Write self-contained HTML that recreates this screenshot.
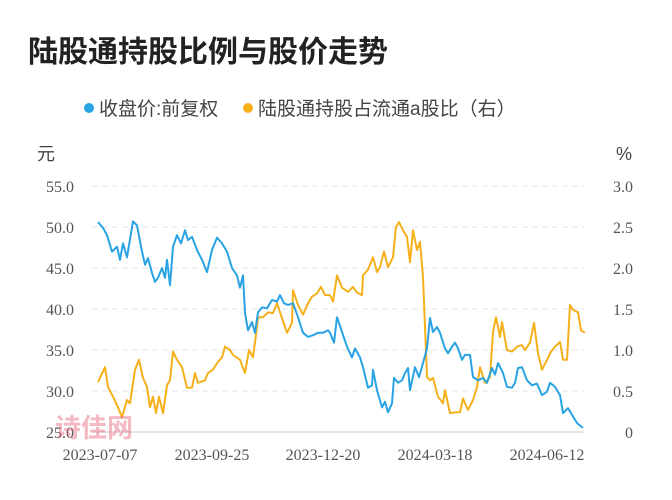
<!DOCTYPE html>
<html><head><meta charset="utf-8"><style>
body{margin:0;background:#fff;}
svg{display:block;}
</style></head><body>
<svg id="c" width="672" height="500" xmlns="http://www.w3.org/2000/svg">
<text x="28" y="62" font-family="'Liberation Sans','Noto Sans CJK SC',sans-serif" font-size="30" font-weight="bold" fill="#222">陆股通持股比例与股价走势</text>
<g font-family="'Liberation Sans','Noto Sans CJK SC',sans-serif" font-size="19" fill="#444">
<g><circle cx="89" cy="108" r="5" fill="#29a3e4"/><text x="99" y="115">收盘价:前复权</text></g>
<g><circle cx="248" cy="108" r="5" fill="#f5b01b"/><text x="258" y="115">陆股通持股占流通a股比（右）</text></g>
</g>
<text x="37" y="160" font-family="'Liberation Sans','Noto Sans CJK SC',sans-serif" font-size="18" fill="#444">元</text>
<text x="616" y="160" font-family="'Liberation Sans',sans-serif" font-size="18" fill="#444">%</text>
<g id="grid"></g><g id="axes"></g><g id="series"></g>
<text x="55" y="437" font-family="'Liberation Sans','Noto Sans CJK SC',sans-serif" font-size="26" font-weight="bold" fill="#e8667a" opacity="0.45">诗佳网</text>
</svg>
<script>
const leftTicks=[25,30,35,40,45,50,55];
const rightTicks=[0,0.5,1,1.5,2,2.5,3];
const xTickLabels=['2023-07-07','2023-09-25','2023-12-20','2024-03-18','2024-06-12'];
const xTickDays=[2,114,225,337,449];
const priceDays=[0,5,9,14,19,22,25,29,35,39,44,47,50,54,57,60,64,67,69,72,75,79,83,87,90,94,99,104,109,114,119,124,129,134,139,142,145,147,150,154,157,160,164,169,174,179,182,186,190,195,200,205,210,215,220,225,230,232,236,239,244,249,254,257,262,265,270,274,275,279,284,287,290,294,296,300,304,307,310,312,317,321,325,329,332,335,339,342,347,350,354,357,360,364,367,372,375,380,385,389,394,397,400,405,409,414,417,420,424,429,434,439,444,449,452,457,462,465,470,474,479,484,485];
const priceVals=[50.6,49.9,49.0,47.0,47.6,46.0,48.0,46.3,50.7,50.2,47.0,45.4,46.2,44.4,43.3,43.8,45.0,43.8,46.0,42.9,47.6,49.0,48.0,49.6,48.4,48.8,47.2,46.0,44.5,47.2,48.7,48.0,47.0,45.0,44.1,42.6,44.1,39.5,37.4,38.4,37.1,39.6,40.2,40.1,41.1,40.9,41.7,40.7,40.5,40.7,39.0,37.1,36.6,36.8,37.1,37.1,37.4,37.1,35.9,39.0,37.2,35.4,34.1,35.2,34.1,32.9,30.4,30.7,32.6,30.1,28.0,28.7,27.4,28.5,31.6,31.0,31.3,32.2,32.8,30.1,32.9,31.7,33.4,35.2,38.9,37.2,37.8,37.1,35.2,34.6,35.4,35.9,35.2,33.8,34.4,34.4,31.7,31.3,31.6,31.0,32.8,32.0,33.4,32.2,30.5,30.4,31.0,32.8,32.9,31.3,30.7,30.9,29.5,29.9,31.0,30.5,29.5,27.3,27.9,27.1,26.1,25.6,25.5];
const holdDays=[0,7,10,15,20,24,29,32,37,41,45,49,52,55,58,61,65,69,72,75,79,84,89,94,97,100,107,110,115,119,124,127,132,135,142,147,151,155,159,160,165,170,175,179,184,189,194,195,200,205,210,214,219,223,227,232,235,239,244,250,255,259,264,265,270,275,279,282,286,290,295,298,301,305,309,312,315,319,322,325,329,332,335,340,345,347,352,357,362,365,370,375,379,382,387,392,395,398,402,404,409,414,419,424,427,432,436,440,444,449,453,457,462,465,469,472,475,480,483,487];
const holdVals=[0.61,0.79,0.55,0.43,0.30,0.18,0.39,0.35,0.76,0.88,0.66,0.55,0.30,0.43,0.23,0.43,0.23,0.57,0.63,0.98,0.88,0.79,0.54,0.54,0.72,0.60,0.63,0.72,0.76,0.84,0.91,1.04,1.00,0.94,0.88,0.72,1.00,0.91,1.28,1.40,1.40,1.46,1.45,1.57,1.39,1.21,1.33,1.73,1.55,1.43,1.57,1.65,1.69,1.77,1.67,1.67,1.59,1.91,1.76,1.71,1.77,1.70,1.67,1.91,1.98,2.13,1.95,2.01,2.20,2.01,2.13,2.50,2.56,2.46,2.38,2.07,2.46,2.22,2.32,1.89,0.67,0.63,0.66,0.43,0.35,0.51,0.23,0.24,0.24,0.41,0.27,0.39,0.55,0.79,0.60,0.67,1.22,1.40,1.16,1.34,1.00,0.98,1.04,1.06,1.00,1.09,1.33,0.96,0.76,0.88,0.98,1.04,1.10,0.88,0.88,1.55,1.49,1.46,1.24,1.21];
function sortPairs(d,v){const p=d.map((x,i)=>[x,v[i]]);p.sort((a,b)=>a[0]-b[0]);return p;}
const X0=98,X1=585,D1=487,Y0=432,Y1=186;
const xs=d=>X0+(X1-X0)*d/D1;
const yl=v=>Y0-(v-25)/30*(Y0-Y1);
const yr=v=>Y0-v/3*(Y0-Y1);
const NS='http://www.w3.org/2000/svg';
function mk(t,a,parent){const e=document.createElementNS(NS,t);for(const k in a)e.setAttribute(k,a[k]);parent.appendChild(e);return e;}
const grid=document.getElementById('grid'),axes=document.getElementById('axes'),ser=document.getElementById('series');
leftTicks.forEach((v,i)=>{
 const y=yl(v);
 const g=mk('line',{x1:92,x2:585,y1:y,y2:y,stroke:i==0?'#ccc':'#e6e6e6','stroke-width':1,'stroke-dasharray':i==0?'':'6,4'},grid);
 
 
 const t=mk('text',{x:74,y:y+6,'text-anchor':'end','font-family':"'Liberation Serif',serif",'font-size':16,fill:'#555'},axes);
 t.textContent=v.toFixed(1);
 
 
});
rightTicks.forEach(v=>{
 const t=mk('text',{x:633,y:yr(v)+6,'text-anchor':'end','font-family':"'Liberation Serif',serif",'font-size':16,fill:'#555'},axes);
 t.textContent=v==0?'0':v.toFixed(1);
 
 
});
xTickLabels.forEach((l,i)=>{
 const t=mk('text',{x:xs(xTickDays[i]),y:460,'text-anchor':'middle','font-family':"'Liberation Serif',serif",'font-size':16,fill:'#555'},axes);
 t.textContent=l;
 
 
});
function line(d,v,fy,color,name){
 const p=sortPairs(d,v).map(q=>xs(q[0]).toFixed(1)+','+fy(q[1]).toFixed(1)).join(' ');
 const e=mk('polyline',{points:p,fill:'none',stroke:color,'stroke-width':2,'stroke-linejoin':'round'},ser);
 
 
}
line(holdDays,holdVals,yr,'#f5b01b','holding-ratio-line');
line(priceDays,priceVals,yl,'#29a3e4','close-price-line');
</script>
</body></html>
